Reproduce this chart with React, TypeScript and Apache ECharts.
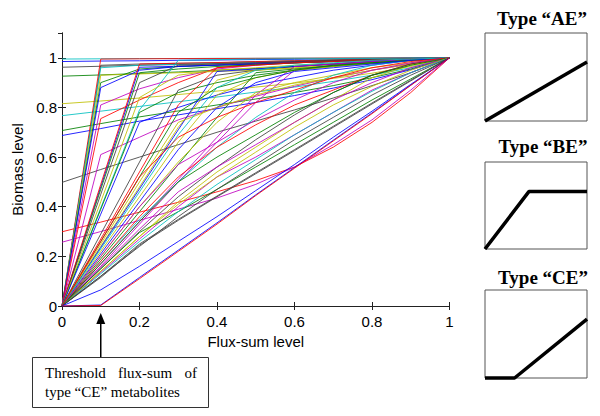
import React, { useEffect, useRef } from "react";
import * as echarts from "echarts";

// Flux-sum sample levels (x) shared by every curve
const fluxLevels = [0, 0.1, 0.2, 0.3, 0.4, 0.5, 0.6, 0.7, 0.8, 0.9, 1];

// MATLAB default colour cycle
const palette: Record<string, string> = {
  b: "#0000ff",
  g: "#008000",
  r: "#ff0000",
  c: "#00bfbf",
  m: "#bf00bf",
  y: "#bfbf00",
  k: "#404040",
};

// curves that start above zero (biomass already high at zero flux-sum)
const offsetCurves = [
  [0.995, 0.996, 0.997, 0.997, 0.998, 0.998, 0.999, 0.999, 1, 1, 1],
  [0.985, 0.987, 0.988, 0.99, 0.991, 0.993, 0.994, 0.996, 0.997, 0.999, 1],
  [0.962, 0.966, 0.97, 0.973, 0.977, 0.98, 0.984, 0.988, 0.992, 0.996, 1],
  [0.926, 0.931, 0.937, 0.943, 0.95, 0.957, 0.965, 0.973, 0.982, 0.991, 1],
  [0.815, 0.826, 0.838, 0.852, 0.866, 0.882, 0.898, 0.917, 0.938, 0.965, 1],
  [0.767, 0.785, 0.804, 0.823, 0.842, 0.862, 0.882, 0.905, 0.93, 0.96, 1],
  [0.707, 0.735, 0.762, 0.786, 0.81, 0.834, 0.86, 0.888, 0.92, 0.955, 1],
  [0.687, 0.715, 0.745, 0.77, 0.795, 0.82, 0.848, 0.878, 0.912, 0.952, 1],
  [0.498, 0.55, 0.6, 0.65, 0.7, 0.745, 0.79, 0.838, 0.888, 0.94, 1],
  [0.299, 0.338, 0.378, 0.418, 0.46, 0.505, 0.56, 0.64, 0.74, 0.86, 1],
  [0.257, 0.3, 0.345, 0.39, 0.435, 0.49, 0.56, 0.65, 0.75, 0.87, 1],
];
const offsetColors = "cbkgycgbkrm";

// curves saturating already at flux-sum 0.1
const steepCurves = [
  [0, 0.995, 0.996, 0.997, 0.997, 0.998, 0.998, 0.999, 0.999, 1, 1],
  [0, 0.97, 0.975, 0.978, 0.98, 0.984, 0.988, 0.992, 0.995, 0.998, 1],
  [0, 0.96, 0.97, 0.975, 0.98, 0.984, 0.988, 0.992, 0.995, 0.998, 1],
  [0, 0.93, 0.935, 0.94, 0.945, 0.95, 0.958, 0.967, 0.977, 0.988, 1],
  [0, 0.9, 0.955, 0.965, 0.97, 0.975, 0.98, 0.985, 0.99, 0.995, 1],
  [0, 0.88, 0.95, 0.965, 0.972, 0.978, 0.984, 0.989, 0.993, 0.997, 1],
  [0, 0.81, 0.875, 0.92, 0.955, 0.97, 0.98, 0.985, 0.99, 0.995, 1],
  [0, 0.755, 0.83, 0.9, 0.96, 0.975, 0.982, 0.988, 0.993, 0.997, 1],
  [0, 0.61, 0.68, 0.75, 0.8, 0.845, 0.885, 0.92, 0.95, 0.975, 1],
];
const steepColors = "rkcygbmrm";

// curves saturating around flux-sum 0.2
const earlyCurves = [
  [0, 0.48, 0.962, 0.966, 0.97, 0.975, 0.98, 0.985, 0.99, 0.995, 1],
  [0, 0.47, 0.94, 0.955, 0.965, 0.972, 0.979, 0.986, 0.992, 0.996, 1],
  [0, 0.49, 0.975, 0.978, 0.981, 0.985, 0.988, 0.991, 0.994, 0.997, 1],
  [0, 0.45, 0.9, 0.97, 0.975, 0.98, 0.985, 0.99, 0.993, 0.997, 1],
  [0, 0.395, 0.79, 0.99, 0.993, 0.995, 0.996, 0.997, 0.998, 0.999, 1],
  [0, 0.39, 0.78, 0.86, 0.9, 0.93, 0.95, 0.965, 0.978, 0.99, 1],
  [0, 0.42, 0.84, 0.93, 0.95, 0.96, 0.97, 0.978, 0.986, 0.993, 1],
  [0, 0.37, 0.74, 0.8, 0.85, 0.89, 0.92, 0.95, 0.97, 0.99, 1],
];
const earlyColors = "bgrkcgyb";

// curves saturating between flux-sum 0.3 and 0.6
const midCurves = [
  [0, 0.29, 0.58, 0.87, 0.93, 0.95, 0.965, 0.975, 0.985, 0.993, 1],
  [0, 0.27, 0.54, 0.81, 0.96, 0.97, 0.98, 0.985, 0.99, 0.995, 1],
  [0, 0.24, 0.48, 0.72, 0.91, 0.95, 0.96, 0.97, 0.98, 0.99, 1],
  [0, 0.236, 0.472, 0.71, 0.945, 0.955, 0.965, 0.975, 0.985, 0.993, 1],
  [0, 0.17, 0.34, 0.51, 0.68, 0.85, 0.965, 0.975, 0.985, 0.993, 1],
  [0, 0.16, 0.33, 0.5, 0.66, 0.82, 0.95, 0.97, 0.98, 0.99, 1],
  [0, 0.22, 0.44, 0.66, 0.85, 0.92, 0.95, 0.965, 0.98, 0.99, 1],
  [0, 0.19, 0.38, 0.57, 0.76, 0.94, 0.955, 0.968, 0.98, 0.99, 1],
  [0, 0.2, 0.4, 0.58, 0.74, 0.86, 0.9, 0.93, 0.96, 0.98, 1],
  [0, 0.18, 0.35, 0.5, 0.64, 0.76, 0.86, 0.93, 0.97, 0.99, 1],
  [0, 0.26, 0.52, 0.78, 0.88, 0.92, 0.95, 0.97, 0.98, 0.99, 1],
  [0, 0.21, 0.42, 0.63, 0.8, 0.9, 0.945, 0.96, 0.975, 0.99, 1],
  [0, 0.25, 0.5, 0.74, 0.8, 0.85, 0.89, 0.92, 0.95, 0.975, 1],
  [0, 0.23, 0.46, 0.69, 0.88, 0.95, 0.97, 0.98, 0.99, 0.995, 1],
];
const midColors = "krybmmygycgbyc";

// gently rising curves
const gentleCurves = [
  [0, 0.18, 0.36, 0.52, 0.64, 0.73, 0.81, 0.87, 0.93, 0.975, 1],
  [0, 0.15, 0.3, 0.44, 0.56, 0.67, 0.77, 0.86, 0.93, 0.975, 1],
  [0, 0.14, 0.28, 0.42, 0.54, 0.64, 0.74, 0.83, 0.92, 0.97, 1],
  [0, 0.135, 0.27, 0.4, 0.52, 0.6, 0.69, 0.78, 0.87, 0.94, 1],
  [0, 0.155, 0.31, 0.46, 0.56, 0.65, 0.74, 0.83, 0.9, 0.96, 1],
  [0, 0.2, 0.4, 0.57, 0.66, 0.75, 0.83, 0.9, 0.95, 0.98, 1],
  [0, 0.26, 0.52, 0.68, 0.76, 0.82, 0.87, 0.92, 0.96, 0.985, 1],
  [0, 0.17, 0.34, 0.5, 0.6, 0.69, 0.78, 0.86, 0.93, 0.97, 1],
];
const gentleColors = "rkymmmrg";

// near-diagonal curves, incl. threshold ("CE") curves at the bottom
const lowCurves = [
  [0, 0.15, 0.296, 0.38, 0.47, 0.56, 0.65, 0.74, 0.83, 0.915, 1],
  [0, 0.14, 0.28, 0.41, 0.52, 0.62, 0.72, 0.81, 0.885, 0.95, 1],
  [0, 0.13, 0.26, 0.38, 0.49, 0.59, 0.69, 0.78, 0.865, 0.94, 1],
  [0, 0.12, 0.24, 0.36, 0.47, 0.57, 0.67, 0.76, 0.85, 0.93, 1],
  [0, 0.12, 0.25, 0.349, 0.443, 0.537, 0.63, 0.724, 0.818, 0.91, 1],
  [0, 0.115, 0.245, 0.345, 0.44, 0.533, 0.626, 0.72, 0.814, 0.907, 1],
  [0, 0.065, 0.16, 0.26, 0.36, 0.465, 0.57, 0.68, 0.785, 0.893, 1],
  [0, 0.004, 0.115, 0.225, 0.335, 0.448, 0.558, 0.668, 0.778, 0.89, 1],
  [0, 0.002, 0.11, 0.22, 0.33, 0.445, 0.555, 0.665, 0.775, 0.889, 1],
];
const lowColors = "gyckkkbbr";

// schematic shapes of the three metabolite types
const aeShape = [[0, 0], [1, 0.67]];
const beShape = [[0, 0], [0.43, 0.66], [1, 0.66]];
const ceShape = [[0, 0], [0.29, 0], [1, 0.67]];

const ceThreshold = 0.1;

const xTicks = 0.2;
const yTicks = 0.2;

const groups: [number[][], string][] = [
  [offsetCurves, offsetColors],
  [steepCurves, steepColors],
  [earlyCurves, earlyColors],
  [midCurves, midColors],
  [gentleCurves, gentleColors],
  [lowCurves, lowColors],
];

const SANS = "Liberation Sans, Arial, sans-serif";
const SERIF = "Liberation Serif, Times New Roman, serif";

export default function App() {
  const ref = useRef<HTMLDivElement>(null);

  useEffect(() => {
    if (!ref.current) return;
    const chart = echarts.init(ref.current, undefined, { renderer: "svg" });

    const series: any[] = [];
    groups.forEach(([curves, colors]) => {
      curves.forEach((vals, i) => {
        series.push({
          type: "line",
          xAxisIndex: 0,
          yAxisIndex: 0,
          data: fluxLevels.map((x, j) => [x, vals[j]]),
          symbol: "none",
          silent: true,
          lineStyle: { width: 1, color: palette[colors[i]], opacity: 0.85 },
        });
      });
    });

    const shapes = [aeShape, beShape, ceShape];
    shapes.forEach((shape, k) => {
      series.push({
        type: "line",
        xAxisIndex: k + 2,
        yAxisIndex: k + 2,
        data: shape,
        symbol: "none",
        silent: true,
        clip: false,
        lineStyle: { width: 3.5, color: "#000" },
      });
    });

    const smallGrid = (top: number, height: number) => ({
      left: 485,
      top,
      width: 102,
      height,
      show: true,
      borderColor: "#555",
      borderWidth: 1,
      backgroundColor: "transparent",
    });

    const smallAxis = (idx: number) => ({
      type: "value",
      gridIndex: idx,
      min: 0,
      max: 1,
      show: false,
    });

    const labelStyle = { color: "#000", fontSize: 15, fontFamily: SANS };

    chart.setOption({
      animation: false,
      backgroundColor: "#fff",
      grid: [
        { left: 62, top: 33, width: 387.5, height: 273, show: false },
        smallGrid(33, 88),
        smallGrid(162, 87),
        smallGrid(290, 88),
      ],
      xAxis: [
        {
          type: "value",
          gridIndex: 0,
          min: 0,
          max: 1,
          interval: xTicks,
          position: "bottom",
          axisLine: { show: true, lineStyle: { color: "#222", width: 1 } },
          axisTick: { show: true, inside: true, length: 4, lineStyle: { color: "#222" } },
          axisLabel: { ...labelStyle, margin: 8 },
          splitLine: { show: false },
          name: "Flux-sum level",
          nameLocation: "middle",
          nameGap: 27,
          nameTextStyle: labelStyle,
        },
        {
          type: "value",
          gridIndex: 0,
          min: 0,
          max: 1,
          interval: xTicks,
          position: "top",
          axisLine: { show: true, lineStyle: { color: "#222", width: 1 } },
          axisTick: { show: true, inside: true, length: 4, lineStyle: { color: "#222" } },
          axisLabel: { show: false },
          splitLine: { show: false },
        },
        smallAxis(1),
        smallAxis(2),
        smallAxis(3),
      ],
      yAxis: [
        {
          type: "value",
          gridIndex: 0,
          min: 0,
          max: 1.1,
          interval: yTicks,
          position: "left",
          axisLine: { show: true, lineStyle: { color: "#222", width: 1 } },
          axisTick: { show: true, inside: true, length: 4, lineStyle: { color: "#222" } },
          axisLabel: { ...labelStyle, margin: 5, showMaxLabel: false },
          splitLine: { show: false },
          name: "Biomass level",
          nameLocation: "middle",
          nameGap: 37,
          nameRotate: 90,
          nameTextStyle: labelStyle,
        },
        {
          type: "value",
          gridIndex: 0,
          min: 0,
          max: 1.1,
          interval: yTicks,
          position: "right",
          axisLine: { show: true, lineStyle: { color: "#222", width: 1 } },
          axisTick: { show: true, inside: true, length: 4, lineStyle: { color: "#222" } },
          axisLabel: { show: false },
          splitLine: { show: false },
        },
        smallAxis(1),
        smallAxis(2),
        smallAxis(3),
      ],
      series,
    });

    const ax = chart.convertToPixel({ xAxisIndex: 0 }, ceThreshold) as number;
    const ay = chart.convertToPixel({ yAxisIndex: 0 }, 0) as number;

    const titleStyle = {
      fill: "#000",
      font: `bold 19px ${SERIF}`,
      textAlign: "center",
      textVerticalAlign: "middle",
    };
    const noteFont = `15px ${SERIF}`;

    chart.setOption({
      graphic: [
        { type: "text", x: 542, y: 18, style: { ...titleStyle, text: "Type “AE”" } },
        { type: "text", x: 543, y: 146, style: { ...titleStyle, text: "Type “BE”" } },
        { type: "text", x: 543, y: 277, style: { ...titleStyle, text: "Type “CE”" } },
        {
          type: "line",
          shape: { x1: ax, y1: 357, x2: ax, y2: ay + 15 },
          style: { stroke: "#000", lineWidth: 1.5 },
        },
        {
          type: "polygon",
          shape: { points: [[ax, ay + 7], [ax - 4.5, ay + 18], [ax + 4.5, ay + 18]] },
          style: { fill: "#000" },
        },
        {
          type: "rect",
          shape: { x: 32.5, y: 357.5, width: 176, height: 50 },
          style: { fill: "#fff", stroke: "#333", lineWidth: 1 },
        },
        { type: "text", x: 45, y: 373, style: { text: "Threshold", font: noteFont, fill: "#000", textVerticalAlign: "middle" } },
        { type: "text", x: 145, y: 373, style: { text: "flux-sum", font: noteFont, fill: "#000", textAlign: "center", textVerticalAlign: "middle" } },
        { type: "text", x: 197, y: 373, style: { text: "of", font: noteFont, fill: "#000", textAlign: "right", textVerticalAlign: "middle" } },
        { type: "text", x: 45, y: 392, style: { text: "type “CE” metabolites", font: noteFont, fill: "#000", textVerticalAlign: "middle" } },
      ],
    });

    return () => {
      chart.dispose();
    };
  }, []);

  return (
    <div
      ref={ref}
      style={{ position: "absolute", left: 0, top: 0, width: 600, height: 416, background: "#fff" }}
    />
  );
}
